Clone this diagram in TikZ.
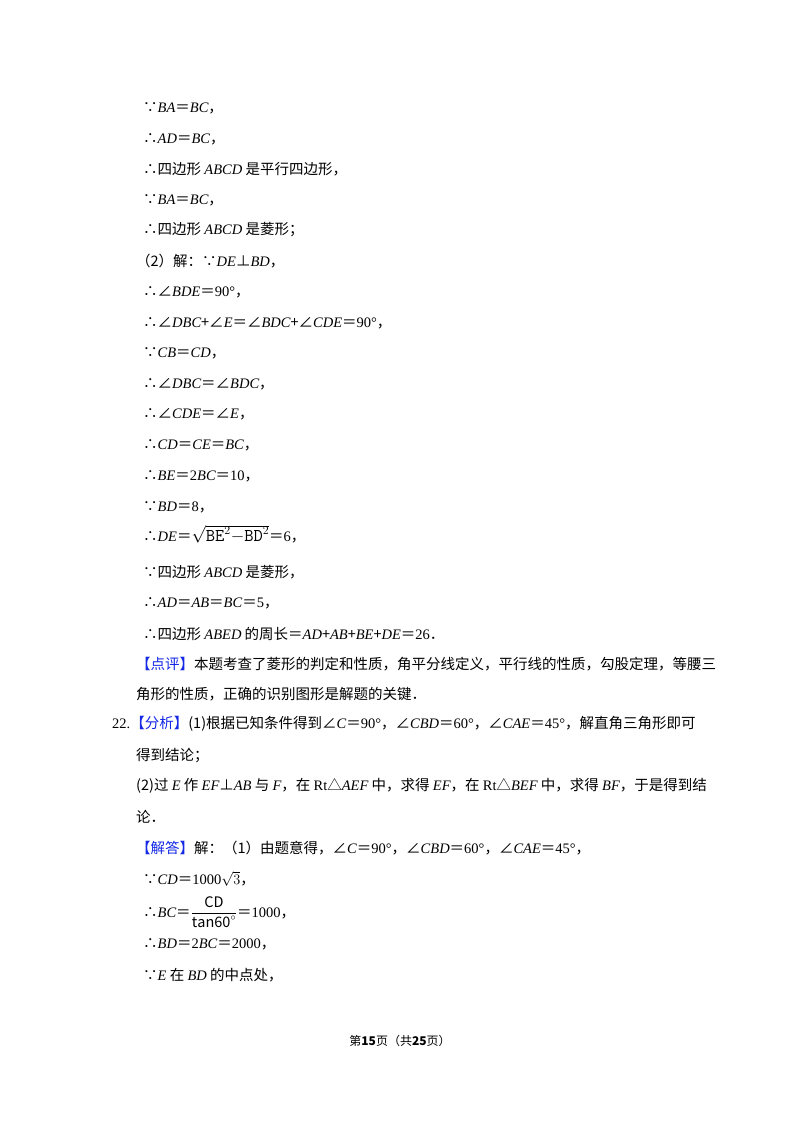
\documentclass[tikz,border=0pt]{standalone}
\usepackage{fontspec}
\setmainfont{Noto Sans CJK SC}
\newfontfamily\tm{Liberation Serif}
\newcommand{\m}[1]{{\tm\itshape #1}}
\newcommand{\n}[1]{{\tm #1}}
\definecolor{kblue}{RGB}{20,40,230}
\newcommand{\kb}[1]{{\color{kblue}#1}}
\begin{document}
\begin{tikzpicture}[x=1pt,y=-1pt,every node/.style={anchor=west,inner sep=0pt,font=\fontsize{14.5}{17}\selectfont}]
\useasboundingbox (0,0) rectangle (800,1132);
\fill[white] (0,0) rectangle (800,1132);
\node (l1) at (143,108) {∵\m{BA}＝\m{BC}，};
\node (l2) at (143,139) {∴\m{AD}＝\m{BC}，};
\node (l3) at (143,169) {∴四边形 \m{ABCD} 是平行四边形，};
\node (l4) at (143,200) {∵\m{BA}＝\m{BC}，};
\node (l5) at (143,230) {∴四边形 \m{ABCD} 是菱形；};
\node (l6) at (136,261) {（2）解：∵\m{DE}⊥\m{BD}，};
\node (l7) at (143,292) {∴∠\m{BDE}＝\n{90°}，};
\node (l8) at (143,323) {∴∠\m{DBC}+∠\m{E}＝∠\m{BDC}+∠\m{CDE}＝\n{90°}，};
\node (l9) at (143,353) {∵\m{CB}＝\m{CD}，};
\node (l10) at (143,384) {∴∠\m{DBC}＝∠\m{BDC}，};
\node (l11) at (143,414) {∴∠\m{CDE}＝∠\m{E}，};
\node (l12) at (143,445) {∴\m{CD}＝\m{CE}＝\m{BC}，};
\node (l13) at (143,476) {∴\m{BE}＝\n{2}\m{BC}＝\n{10}，};
\node (l14) at (143,507) {∵\m{BD}＝\n{8}，};
\node (l15) at (143,534) {∴\m{DE}＝{\fontsize{18}{20}\selectfont$\sqrt{\mathtt{BE}^{2}\mathtt{-BD}^{2}}$}＝\n{6}，};
\node (l16) at (143,572) {∵四边形 \m{ABCD} 是菱形，};
\node (l17) at (143,603) {∴\m{AD}＝\m{AB}＝\m{BC}＝\n{5}，};
\node (l18) at (143,634) {∴四边形 \m{ABED} 的周长＝\m{AD}+\m{AB}+\m{BE}+\m{DE}＝\n{26}．};
\node (l19) at (136,664) {\kb{【点评】}本题考查了菱形的判定和性质，角平分线定义，平行线的性质，勾股定理，等腰三};
\node (l20) at (136,694) {角形的性质，正确的识别图形是解题的关键．};
\node (l21) at (112,724) {\n{22.}\kb{【分析】}(1)根据已知条件得到∠\m{C}＝\n{90°}，∠\m{CBD}＝\n{60°}，∠\m{CAE}＝\n{45°}，解直角三角形即可};
\node (l22) at (136,756) {得到结论；};
\node (l23) at (136,786) {(2)过 \m{E} 作 \m{EF}⊥\m{AB} 与 \m{F}，在 \n{Rt}△\m{AEF} 中，求得 \m{EF}，在 \n{Rt}△\m{BEF} 中，求得 \m{BF}，于是得到结};
\node (l24) at (136,817) {论．};
\node (l25) at (136,848) {\kb{【解答】}解：（1）由题意得，∠\m{C}＝\n{90°}，∠\m{CBD}＝\n{60°}，∠\m{CAE}＝\n{45°}，};
\node (l26) at (143,879) {∵\m{CD}＝\n{1000}$\sqrt{3}$，};
\node (l27) at (143,912) {∴\m{BC}＝$\displaystyle\frac{\mathrm{CD}}{\mathrm{tan60}^{\circ}}$＝\n{1000}，};
\node (l28) at (143,944) {∴\m{BD}＝\n{2}\m{BC}＝\n{2000}，};
\node (l29) at (143,975) {∵\m{E} 在 \m{BD} 的中点处，};
\node[anchor=center,font=\fontsize{12}{14}\selectfont] (ft) at (400,1041) {第\textbf{15}页（共\textbf{25}页）};
\end{tikzpicture}
\end{document}
